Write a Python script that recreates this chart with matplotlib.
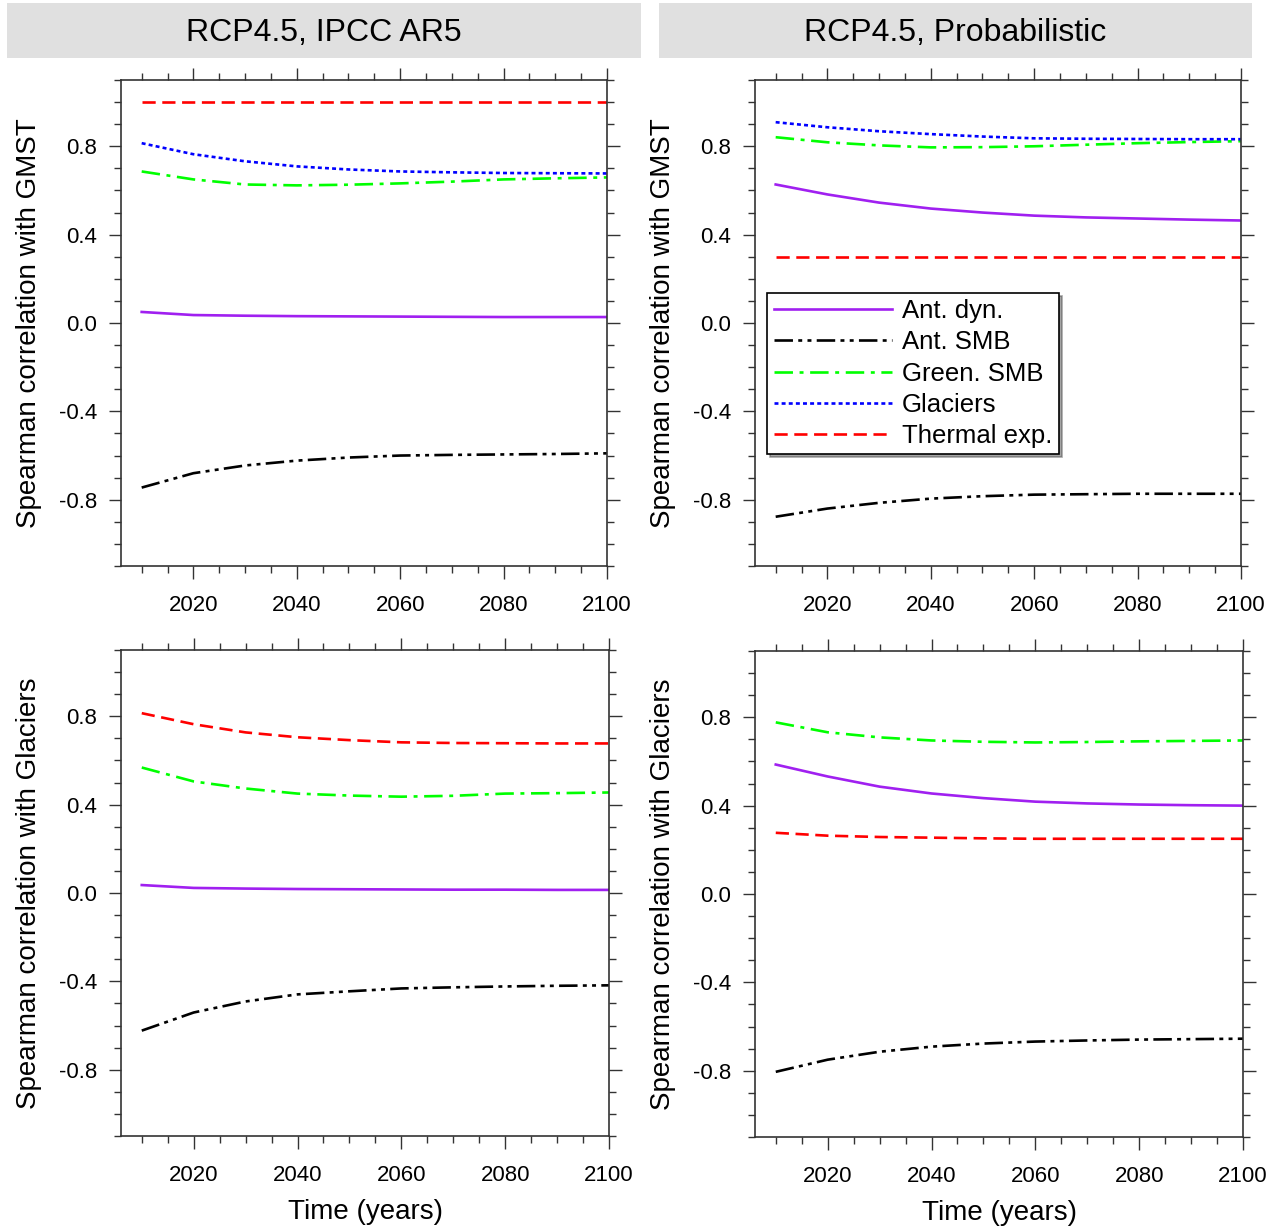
import numpy as np
import matplotlib.pyplot as plt
from matplotlib.ticker import FixedLocator
from matplotlib.patches import Rectangle

plt.rcParams['font.family'] = ['Liberation Sans', 'DejaVu Sans']
plt.rcParams['axes.unicode_minus'] = False

# --- Data ---
years = [2010, 2020, 2030, 2040, 2050, 2060, 2070, 2080, 2090, 2100]

# top-left: RCP4.5, IPCC AR5, correlation with GMST
ar5_gmst = {
    "Ant. dyn.":    [0.050, 0.036, 0.033, 0.031, 0.030, 0.029, 0.028, 0.027, 0.027, 0.027],
    "Ant. SMB":     [-0.745, -0.680, -0.645, -0.623, -0.609, -0.600, -0.597, -0.595, -0.593, -0.590],
    "Green. SMB":   [0.686, 0.650, 0.627, 0.623, 0.626, 0.632, 0.640, 0.650, 0.655, 0.659],
    "Glaciers":     [0.814, 0.764, 0.732, 0.709, 0.695, 0.686, 0.682, 0.679, 0.678, 0.677],
    "Thermal exp.": [1.0, 1.0, 1.0, 1.0, 1.0, 1.0, 1.0, 1.0, 1.0, 1.0],
}
# top-right: RCP4.5, Probabilistic, correlation with GMST
prob_gmst = {
    "Ant. dyn.":    [0.627, 0.582, 0.545, 0.518, 0.500, 0.486, 0.478, 0.473, 0.468, 0.464],
    "Ant. SMB":     [-0.877, -0.840, -0.814, -0.795, -0.784, -0.777, -0.775, -0.773, -0.773, -0.773],
    "Green. SMB":   [0.841, 0.818, 0.804, 0.795, 0.796, 0.800, 0.807, 0.814, 0.819, 0.823],
    "Glaciers":     [0.909, 0.886, 0.868, 0.855, 0.844, 0.836, 0.834, 0.833, 0.832, 0.832],
    "Thermal exp.": [0.30, 0.30, 0.30, 0.30, 0.30, 0.30, 0.30, 0.30, 0.30, 0.30],
}
# bottom-left: RCP4.5, IPCC AR5, correlation with Glaciers
ar5_glac = {
    "Ant. dyn.":    [0.036, 0.023, 0.020, 0.018, 0.017, 0.016, 0.015, 0.015, 0.014, 0.014],
    "Ant. SMB":     [-0.623, -0.541, -0.491, -0.459, -0.445, -0.432, -0.427, -0.423, -0.420, -0.418],
    "Green. SMB":   [0.568, 0.505, 0.473, 0.450, 0.441, 0.436, 0.440, 0.450, 0.452, 0.455],
    "Thermal exp.": [0.814, 0.764, 0.727, 0.705, 0.692, 0.682, 0.679, 0.678, 0.677, 0.677],
}
# bottom-right: RCP4.5, Probabilistic, correlation with Glaciers
prob_glac = {
    "Ant. dyn.":    [0.586, 0.532, 0.486, 0.455, 0.434, 0.418, 0.410, 0.405, 0.402, 0.400],
    "Ant. SMB":     [-0.805, -0.750, -0.714, -0.691, -0.677, -0.668, -0.663, -0.659, -0.657, -0.655],
    "Green. SMB":   [0.777, 0.732, 0.709, 0.695, 0.689, 0.686, 0.688, 0.691, 0.693, 0.695],
    "Thermal exp.": [0.277, 0.264, 0.258, 0.255, 0.252, 0.250, 0.250, 0.250, 0.250, 0.250],
}

titles = ["RCP4.5, IPCC AR5", "RCP4.5, Probabilistic"]
ylabels = ["Spearman correlation with GMST", "Spearman correlation with Glaciers"]
order = ["Ant. dyn.", "Ant. SMB", "Green. SMB", "Glaciers", "Thermal exp."]

styles = {
    "Ant. dyn.":    dict(color="#a020f0", linestyle="-"),
    "Ant. SMB":     dict(color="black", dashes=(7, 2, 1.5, 2, 1.5, 2)),
    "Green. SMB":   dict(color="#00ff00", dashes=(7, 2.5, 1.5, 2.5)),
    "Glaciers":     dict(color="#0000ff", dashes=(1.5, 1.2)),
    "Thermal exp.": dict(color="#ff0000", dashes=(5, 2.5)),
}

fig = plt.figure(figsize=(12.85, 12.3), dpi=100)

W, H = 1285, 1230
panels = [
    (121, 80, 607, 566, ar5_gmst, ylabels[0]),
    (755, 80, 1241, 566, prob_gmst, ylabels[0]),
    (121, 650, 609, 1136, ar5_glac, ylabels[1]),
    (755, 651, 1243, 1137, prob_glac, ylabels[1]),
]

axes = []
for (x0, y0, x1, y1, data, ylab) in panels:
    ax = fig.add_axes([x0 / W, 1 - y1 / H, (x1 - x0) / W, (y1 - y0) / H])
    for name in order:
        if name in data:
            ax.plot(years, data[name], lw=1.9, label=name, **styles[name])
    ax.set_xlim(2006, 2100)
    ax.set_ylim(-1.1, 1.1)
    ax.xaxis.set_major_locator(FixedLocator([2020, 2040, 2060, 2080, 2100]))
    ax.xaxis.set_minor_locator(FixedLocator(np.arange(2010, 2101, 5)))
    ax.yaxis.set_major_locator(FixedLocator([-0.8, -0.4, 0.0, 0.4, 0.8]))
    ax.yaxis.set_minor_locator(FixedLocator(np.arange(-1.1, 1.11, 0.1)))
    ax.set_yticklabels(["-0.8", "-0.4", "0.0", "0.4", "0.8"])
    ax.tick_params(which="both", direction="out", top=True, right=True,
                   color="#333333", width=1.0, labelsize=16)
    ax.tick_params(which="major", length=9)
    ax.tick_params(which="minor", length=5)
    ax.tick_params(axis="x", which="major", pad=12)
    ax.tick_params(axis="y", which="major", pad=8)
    for sp in ax.spines.values():
        sp.set_linewidth(1.2)
        sp.set_color("#333333")
    ax.set_ylabel(ylab, fontsize=20, labelpad=12)
    axes.append(ax)

axes[2].set_xlabel("Time (years)", fontsize=20, labelpad=9)
axes[3].set_xlabel("Time (years)", fontsize=20, labelpad=9)

# header strips
for (x0, x1), t in zip([(7, 641), (659, 1252)], titles):
    fig.patches.append(Rectangle((x0 / W, 1 - 58 / H), (x1 - x0) / W, 55 / H,
                                 transform=fig.transFigure, facecolor="#e0e0e0",
                                 edgecolor="none", zorder=0))
    fig.text((x0 + x1) / 2 / W, 1 - 33 / H, t, ha="center", va="center", fontsize=23)

leg = axes[1].legend(loc="upper left", bbox_to_anchor=(0.025, 0.562), borderaxespad=0,
                     fontsize=18.5, handlelength=4.6, handletextpad=0.4, labelspacing=0.28,
                     borderpad=0.25, fancybox=False, shadow=True, frameon=True)
leg.get_frame().set_edgecolor("black")
leg.get_frame().set_linewidth(1.2)

fig.savefig("out.png", dpi=100)
